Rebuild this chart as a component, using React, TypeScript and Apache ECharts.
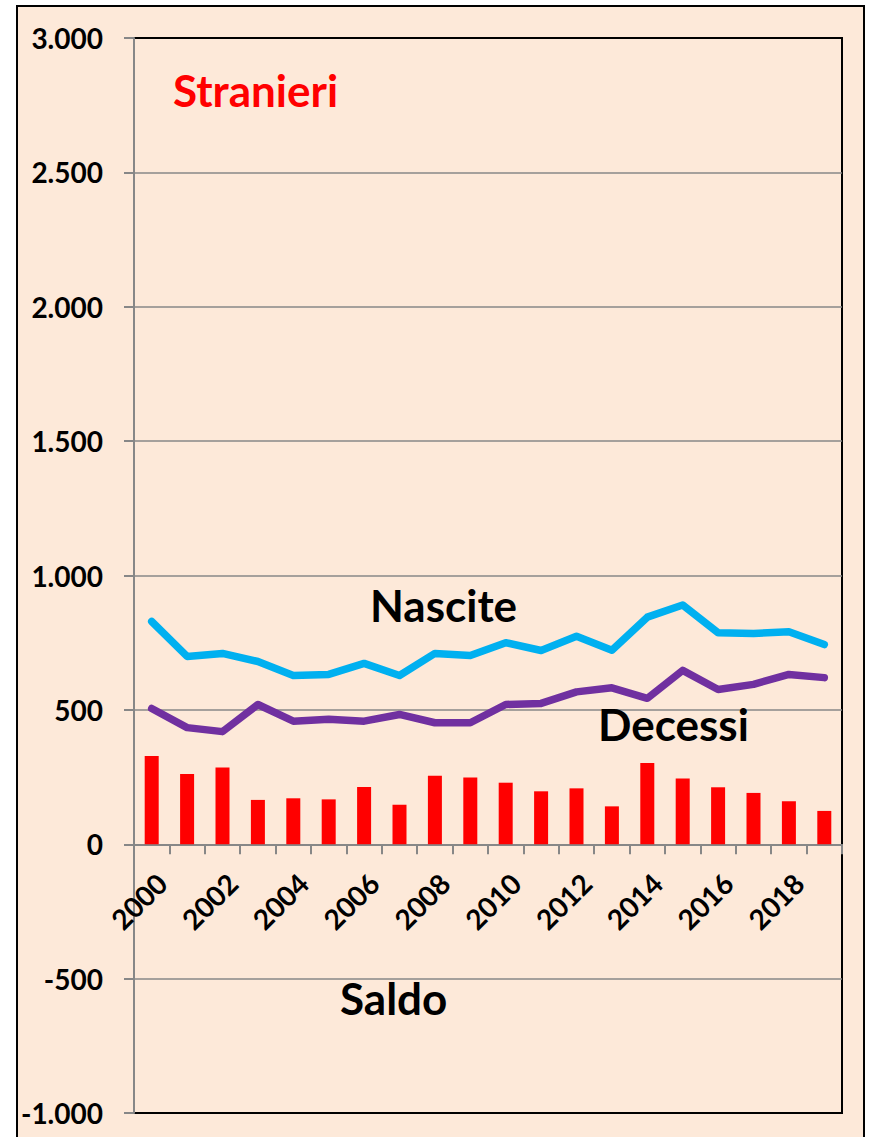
import React, { useEffect, useRef } from "react";
import * as echarts from "echarts";

const years = ["2000","2001","2002","2003","2004","2005","2006","2007","2008","2009","2010","2011","2012","2013","2014","2015","2016","2017","2018","2019"];
const nascite = [829, 699, 710, 680, 628, 632, 673, 628, 710, 702, 750, 721, 774, 722, 845, 890, 787, 784, 791, 743];
const decessi = [505, 434, 419, 520, 458, 465, 458, 483, 452, 452, 520, 524, 567, 582, 543, 647, 576, 595, 632, 620];
const saldo = [328, 261, 286, 165, 171, 167, 213, 147, 255, 248, 229, 197, 208, 141, 302, 245, 212, 191, 160, 124];

const yMin = -1000;
const yMax = 3000;
const yStep = 500;

const FONT = "Lato";

function fmt(v: number): string {
  const sign = v < 0 ? "-" : "";
  const a = Math.abs(v);
  if (a >= 1000) {
    const th = Math.floor(a / 1000);
    const rest = String(a % 1000).padStart(3, "0");
    return sign + th + "." + rest;
  }
  return sign + a;
}

const W = 869;
const H = 1137;
const G = { left: 134, right: 27, top: 38, bottom: 24 };

export default function App() {
  const ref = useRef<HTMLDivElement>(null);
  useEffect(() => {
    if (!ref.current) return;
    const chart = echarts.init(ref.current, null, { renderer: "svg" });
    const gray = "#878787";
    const gridH = H - G.top - G.bottom;
    const zeroOffset = -(gridH * (0 - yMin)) / (yMax - yMin);
    chart.setOption({
      animation: false,
      backgroundColor: "#ffffff",
      textStyle: { fontFamily: FONT },
      graphic: [
        {
          type: "rect",
          z: -10,
          shape: { x: 17, y: 6, width: 847, height: 1160 },
          style: { fill: "#FDE9D9", stroke: "#000", lineWidth: 2 },
        },
        {
          type: "text", z: 100, x: 173, y: 90,
          style: { text: "Stranieri", fill: "#FF0000", font: `bold 44px ${FONT}`, textVerticalAlign: "middle" },
        },
        {
          type: "text", z: 100, x: 370, y: 605,
          style: { text: "Nascite", fill: "#000", font: `bold 44px ${FONT}`, textVerticalAlign: "middle" },
        },
        {
          type: "text", z: 100, x: 598, y: 724,
          style: { text: "Decessi", fill: "#000", font: `bold 44px ${FONT}`, textVerticalAlign: "middle" },
        },
        {
          type: "text", z: 100, x: 340, y: 998,
          style: { text: "Saldo", fill: "#000", font: `bold 44px ${FONT}`, textVerticalAlign: "middle" },
        },
      ],
      grid: {
        left: G.left, right: G.right, top: G.top, bottom: G.bottom,
        outerBoundsMode: "none",
        containLabel: false,
        show: true, backgroundColor: "transparent", borderColor: "#000", borderWidth: 2,
      },
      xAxis: {
        type: "category",
        data: years,
        boundaryGap: true,
        offset: zeroOffset,
        axisLine: { onZero: false, lineStyle: { color: gray, width: 2 } },
        axisTick: { show: true, interval: 0, length: 10, lineStyle: { color: gray, width: 2 } },
        axisLabel: {
          interval: 1, rotate: 45, margin: 24, verticalAlign: "top",
          color: "#000", fontSize: 28, fontWeight: "bold", fontFamily: FONT,
        },
        splitLine: { show: false },
      },
      yAxis: {
        type: "value",
        min: yMin, max: yMax, interval: yStep,
        axisLine: { show: true, onZero: false, lineStyle: { color: gray, width: 2 } },
        axisTick: { show: true, length: 10, lineStyle: { color: gray, width: 2 } },
        axisLabel: {
          margin: 31, color: "#000", fontSize: 28, fontWeight: "bold", fontFamily: FONT,
          formatter: (v: number) => fmt(v),
        },
        splitLine: { show: true, showMinLine: false, showMaxLine: false, lineStyle: { color: gray, width: 1.5 } },
      },
      series: [
        {
          name: "Saldo", type: "bar", data: saldo, barWidth: 14,
          itemStyle: { color: "#FF0000" }, z: 2,
        },
        {
          name: "Nascite", type: "line", data: nascite, showSymbol: false, symbol: "none",
          lineStyle: { color: "#00B0F0", width: 7.5, cap: "round", join: "round" }, z: 3,
        },
        {
          name: "Decessi", type: "line", data: decessi, showSymbol: false, symbol: "none",
          lineStyle: { color: "#7030A0", width: 7.5, cap: "round", join: "round" }, z: 3,
        },
      ],
    });
    return () => chart.dispose();
  }, []);
  return (
    <div
      ref={ref}
      style={{ position: "fixed", left: 0, top: 0, width: W, height: H }}
    />
  );
}
